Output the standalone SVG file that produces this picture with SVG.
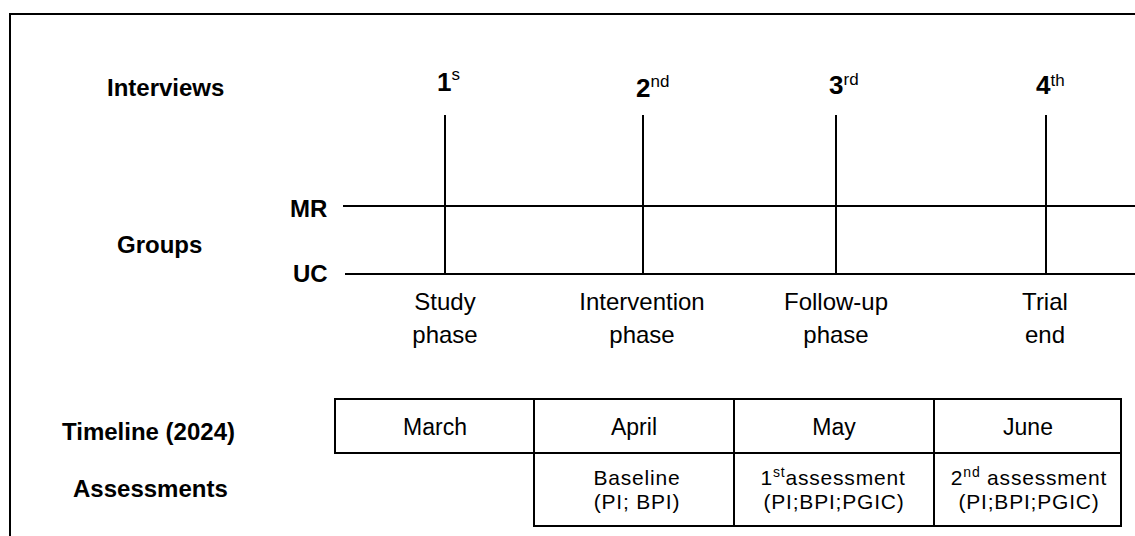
<svg xmlns="http://www.w3.org/2000/svg" width="1135" height="536" viewBox="0 0 1135 536">
<style>
.b{font-family:"Liberation Sans",Arial,sans-serif;font-weight:bold;font-size:24px;fill:#000}
.d{font-family:"Liberation Sans",Arial,sans-serif;font-weight:bold;font-size:26px;fill:#000}
.sup{font-family:"Liberation Sans",Arial,sans-serif;font-weight:normal;font-size:17px;fill:#000}
.r{font-family:"Liberation Sans",Arial,sans-serif;font-size:24px;fill:#000;text-anchor:middle}
.m{font-family:"Liberation Sans",Arial,sans-serif;font-size:23px;fill:#000;text-anchor:middle}
.a{font-family:"Liberation Sans",Arial,sans-serif;font-size:21px;letter-spacing:0.8px;fill:#000;text-anchor:middle}
.ln{stroke:#000;stroke-width:2;fill:none}
.cell{stroke:#000;stroke-width:2;fill:#fff}
</style>
<rect width="1135" height="536" fill="#fff"/>
<g id="frame">
<path class="ln" d="M10,536 V14 H1135"/>
</g>
<g id="row-labels">
<text class="b" x="107" y="96">Interviews</text>
<text class="b" x="117" y="253">Groups</text>
<text class="b" x="62" y="440">Timeline (2024)</text>
<text class="b" x="73" y="497">Assessments</text>
</g>
<g id="group-MR"><text class="b" x="290" y="217">MR</text></g>
<g id="group-UC"><text class="b" x="293" y="282">UC</text></g>
<g id="interview-1"><text class="d" x="437" y="91">1<tspan class="sup" dy="-11">s</tspan></text></g>
<g id="interview-2"><text class="d" x="636" y="97">2<tspan class="sup" dy="-10">nd</tspan></text></g>
<g id="interview-3"><text class="d" x="829" y="94">3<tspan class="sup" dy="-9">rd</tspan></text></g>
<g id="interview-4"><text class="d" x="1036" y="94">4<tspan class="sup" dy="-8">th</tspan></text></g>
<g id="connectors">
<line class="ln" x1="343" y1="206" x2="1135" y2="206"/>
<line class="ln" x1="345" y1="274" x2="1135" y2="274"/>
<line class="ln" x1="445" y1="115" x2="445" y2="274"/>
<line class="ln" x1="643" y1="115" x2="643" y2="274"/>
<line class="ln" x1="836" y1="115" x2="836" y2="274"/>
<line class="ln" x1="1046" y1="115" x2="1046" y2="274"/>
</g>
<g id="phase-study"><text class="r" x="445" y="310">Study</text><text class="r" x="445" y="343">phase</text></g>
<g id="phase-intervention"><text class="r" x="642" y="310">Intervention</text><text class="r" x="642" y="343">phase</text></g>
<g id="phase-followup"><text class="r" x="836" y="310">Follow-up</text><text class="r" x="836" y="343">phase</text></g>
<g id="phase-end"><text class="r" x="1045" y="310">Trial</text><text class="r" x="1045" y="343">end</text></g>
<g id="month-march"><rect class="cell" x="335" y="399" width="199" height="54"/><text class="m" x="435" y="435">March</text></g>
<g id="month-april"><rect class="cell" x="534" y="399" width="200" height="54"/><text class="m" x="634" y="435">April</text></g>
<g id="month-may"><rect class="cell" x="734" y="399" width="200" height="54"/><text class="m" x="834" y="435">May</text></g>
<g id="month-june"><rect class="cell" x="934" y="399" width="187" height="54"/><text class="m" x="1028" y="435">June</text></g>
<g id="assess-baseline"><rect class="cell" x="534" y="453" width="200" height="73"/><text class="a" x="637" y="485">Baseline</text><text class="a" x="637" y="509">(PI; BPI)</text></g>
<g id="assess-1"><rect class="cell" x="734" y="453" width="200" height="73"/><text class="a" x="833" y="485">1<tspan font-size="14" dy="-8">st</tspan><tspan dy="8">assessment</tspan></text><text class="a" x="834" y="509">(PI;BPI;PGIC)</text></g>
<g id="assess-2"><rect class="cell" x="934" y="453" width="187" height="73"/><text class="a" x="1029" y="485">2<tspan font-size="14" dy="-8">nd</tspan><tspan dy="8"> assessment</tspan></text><text class="a" x="1029" y="509">(PI;BPI;PGIC)</text></g>
</svg>
